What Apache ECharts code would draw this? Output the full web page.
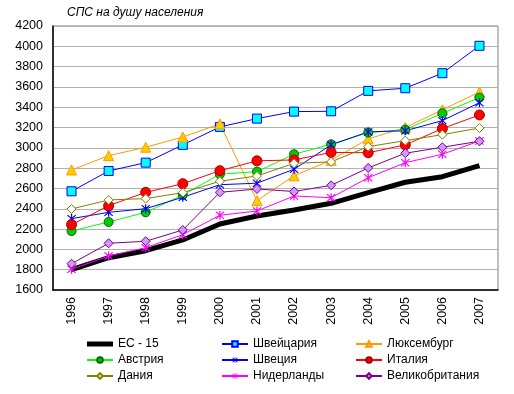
<!DOCTYPE html>
<html>
<head>
<meta charset="utf-8">
<script src="https://cdn.jsdelivr.net/npm/echarts@6/dist/echarts.min.js"></script>
<style>
html,body{margin:0;padding:0;background:#fff;}
#c{width:514px;height:394px;}
</style>
</head>
<body>
<div id="c"></div>
<script>
const years = ['1996','1997','1998','1999','2000','2001','2002','2003','2004','2005','2006','2007'];
const yTicks = {min:1600, max:4200, step:200};
const eu15 = [1800,1918,1987,2093,2250,2329,2388,2454,2559,2661,2716,2825];
const swiss = [2572,2772,2854,3029,3206,3288,3357,3360,3561,3587,3735,4005];
const lux = [2782,2923,3006,3107,3236,2480,2725,2878,3088,3200,3375,3550];
const austria = [2181,2270,2365,2536,2740,2766,2937,3035,3150,3180,3341,3495];
const sweden = [2303,2365,2401,2513,2637,2652,2789,3030,3157,3168,3268,3445];
const italy = [2243,2430,2562,2647,2775,2872,2881,2955,2952,3029,3190,3324];
const denmark = [2398,2487,2500,2559,2671,2723,2848,2862,3012,3071,3130,3195];
const neth = [1804,1935,2017,2145,2336,2378,2526,2509,2706,2854,2937,3068];
const uk = [1859,2060,2080,2191,2562,2595,2570,2631,2802,2947,3006,3065];

const names = ['ЕС - 15','Швейцария','Люксембург','Австрия','Швеция','Италия','Дания','Нидерланды','Великобритания'];

const star = 'path://M4.4,0L5.6,0L5.6,10L4.4,10Z M0.58,1.42L1.42,0.58L9.42,8.58L8.58,9.42Z M8.58,0.58L9.42,1.42L1.42,9.42L0.58,8.58Z';

function s(name, data, line, opts){
  return Object.assign({
    name: name, type:'line', data: data,
    lineStyle:{color:line, width:1},
    color: line,
    emphasis:{disabled:true},
    animation:false
  }, opts);
}

const series = [
  s(names[0], eu15, '#000000', {symbol:'none', lineStyle:{color:'#000', width:5}}),
  s(names[1], swiss, '#0000ff', {symbol:'rect', symbolSize:9, itemStyle:{color:'#00ffff', borderColor:'#0000ff', borderWidth:1}}),
  s(names[2], lux, '#ff9900', {symbol:'triangle', symbolSize:10, itemStyle:{color:'#ffcc00', borderColor:'#ff9900', borderWidth:1}}),
  s(names[3], austria, '#00ff00', {symbol:'circle', symbolSize:9, itemStyle:{color:'#00cc00', borderColor:'#006600', borderWidth:1}}),
  s(names[4], sweden, '#0000ff', {symbol:star, symbolSize:9, itemStyle:{color:'#0000ff', borderWidth:0}}),
  s(names[5], italy, '#ff0000', {symbol:'circle', symbolSize:10, itemStyle:{color:'#ff0000', borderColor:'#aa0000', borderWidth:1}}),
  s(names[6], denmark, '#808000', {symbol:'diamond', symbolSize:9, itemStyle:{color:'#ffffff', borderColor:'#808000', borderWidth:1}}),
  s(names[7], neth, '#ff00ff', {symbol:star, symbolSize:9, itemStyle:{color:'#ff00ff', borderWidth:0}}),
  s(names[8], uk, '#800080', {symbol:'diamond', symbolSize:9, itemStyle:{color:'#cc99ff', borderColor:'#800080', borderWidth:1}})
];

function legend(left, items){
  return {
    orient:'vertical', left:left, top:338, padding:0,
    itemWidth:26, itemHeight:7, itemGap:4,
    data: items,
    textStyle:{fontFamily:'Arial, Liberation Sans', fontSize:12, color:'#000', lineHeight:12},
    selectedMode:false
  };
}

const chart = echarts.init(document.getElementById('c'), null, {renderer:'canvas'});
chart.setOption({
  backgroundColor:'#fff',
  animation:false,
  title:{
    text:'СПС на душу населения', left:67, top:7, padding:0,
    textStyle:{fontFamily:'Arial, Liberation Sans', fontSize:12, fontStyle:'italic', fontWeight:'normal', color:'#000'}
  },
  legend:[
    legend(86, [{name:names[0], icon:'path://M0,0L26,0L26,5L0,5Z'}, names[3], names[6]]),
    legend(221, [names[1], names[4], names[7]]),
    legend(355, [names[2], names[5], names[8]])
  ],
  grid:{left:53, right:16, top:26, bottom:104, show:true, borderColor:'#808080', borderWidth:1, containLabel:false},
  xAxis:{
    type:'category', data:years, boundaryGap:true,
    axisLine:{lineStyle:{color:'#000', width:1.5}},
    axisTick:{show:false},
    axisLabel:{rotate:90, margin:7, fontFamily:'Arial, Liberation Sans', fontSize:12.5, color:'#000'}
  },
  yAxis:{
    type:'value', min:yTicks.min, max:yTicks.max, interval:yTicks.step,
    axisLine:{show:true, lineStyle:{color:'#000', width:1.5}},
    axisTick:{show:false},
    splitLine:{lineStyle:{color:'#b0b0b0', width:1}},
    axisLabel:{margin:10, fontFamily:'Arial, Liberation Sans', fontSize:12.5, color:'#000', formatter:function(v){return String(v);}}
  },
  series: series
});
</script>
</body>
</html>
